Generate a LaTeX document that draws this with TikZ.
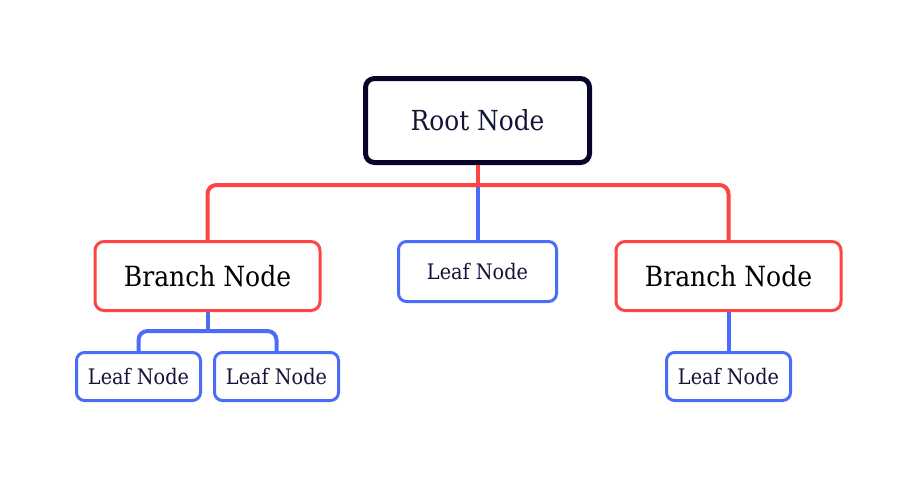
\documentclass[tikz,border=0pt]{standalone}
\usepackage{fontspec}
\setmainfont{DejaVu Serif Condensed}
\definecolor{navy}{HTML}{05052A}
\definecolor{redc}{HTML}{FF4444}
\definecolor{bluec}{HTML}{4A6CF7}
\definecolor{txt}{HTML}{14143A}
\begin{document}
\begin{tikzpicture}[x=1pt,y=-1pt,
  rootbox/.style={draw=navy,line width=5pt,rounded corners=9pt,fill=white,minimum width=224pt,minimum height=84pt,inner sep=0pt,font=\fontsize{27.6}{30}\selectfont,text=txt},
  branchbox/.style={draw=redc,line width=3pt,rounded corners=9pt,fill=white,minimum width=225pt,minimum height=69pt,inner sep=0pt,font=\fontsize{27.8}{30}\selectfont,text=black},
  leafbox/.style={draw=bluec,line width=3pt,rounded corners=8pt,fill=white,minimum width=158pt,minimum height=60pt,inner sep=0pt,font=\fontsize{21.4}{24}\selectfont,text=txt},
  smallleaf/.style={draw=bluec,line width=3pt,rounded corners=8pt,fill=white,minimum width=124pt,minimum height=48pt,inner sep=0pt,font=\fontsize{21.4}{24}\selectfont,text=txt},
  redline/.style={draw=redc,line width=4pt,rounded corners=9pt},
  blueline/.style={draw=bluec,line width=4pt,rounded corners=9pt}]
\useasboundingbox[fill=white] (0,0) rectangle (918,477);
\node[rootbox] (root) at (477.5,120.5) {Root Node};
\node[branchbox] (bl) at (207.5,276) {Branch Node};
\node[branchbox] (br) at (728.5,276) {Branch Node};
\node[leafbox] (lm) at (477.5,271.5) {Leaf Node};
\node[smallleaf] (l1) at (138.5,376.5) {Leaf Node};
\node[smallleaf] (l2) at (276.5,376.5) {Leaf Node};
\node[smallleaf] (l3) at (728.5,376.5) {Leaf Node};
\coordinate (rj) at (477.5,185);
\coordinate (bj) at (207.5,331);
\draw[blueline] (rj) -- (lm.north);
\draw[redline] (root.south) -- (rj);
\draw[redline] (bl.north) |- (rj) -| (br.north);
\draw[blueline] (bl.south) -- (bj);
\draw[blueline] (l1.north) |- (bj) -| (l2.north);
\draw[blueline] (br.south) -- (l3.north);
\end{tikzpicture}
\end{document}
